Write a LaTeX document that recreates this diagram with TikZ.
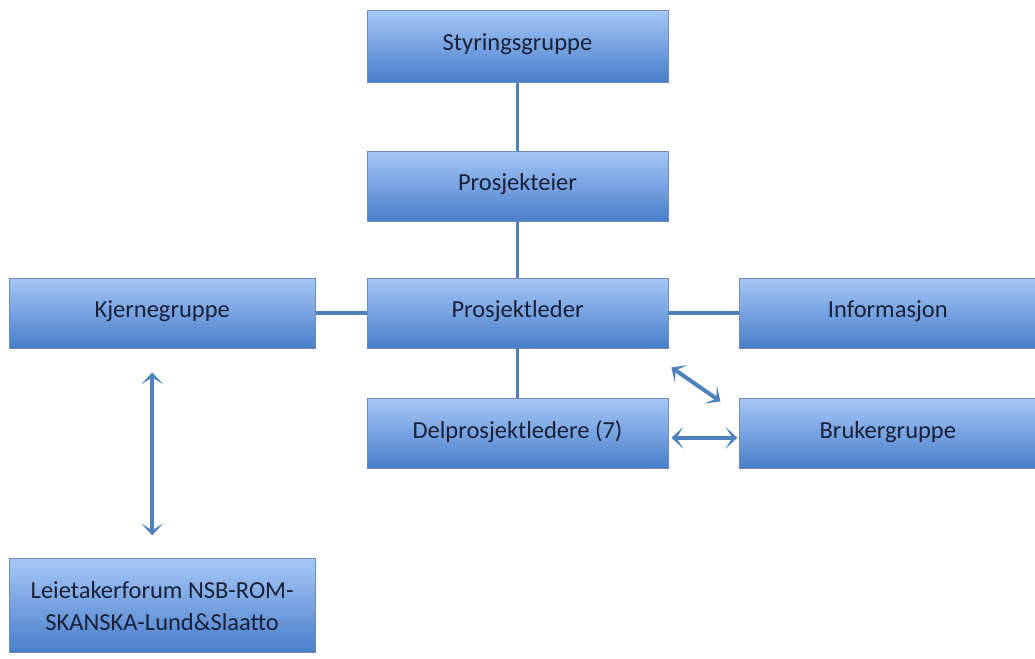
\documentclass[tikz,border=0pt]{standalone}
\usepackage{fontspec}
\setmainfont{Carlito}
\usetikzlibrary{positioning,arrows.meta}
\definecolor{boxtop}{RGB}{166,199,246}
\definecolor{boxbot}{RGB}{72,126,202}
\definecolor{boxline}{RGB}{112,140,182}
\definecolor{linkblue}{RGB}{79,129,189}
\definecolor{txt}{RGB}{24,32,58}

\begin{document}
\begin{tikzpicture}[thick,node distance=50pt,
            main node/.style={rectangle,draw=boxline,line width=0.8pt,top color=boxtop,bottom color=boxbot,
              minimum width=301pt,minimum height=70pt,inner sep=0pt,text=txt,align=center,
              font=\fontsize{24.5}{32}\selectfont},
            link/.style={draw=linkblue,line width=3.5pt},
            both/.style={link,line width=4pt,{Stealth[length=12pt,width=22pt,inset=7pt]}-{Stealth[length=12pt,width=22pt,inset=7pt]}}]

            \useasboundingbox (0,0) rectangle (1035pt,-658pt);
            \node[main node] (leder) at (517.5pt,-313pt) {\raisebox{8pt}{Prosjektleder}};
            \node[main node] (eier) [above=56pt of leder] {\raisebox{8pt}{Prosjekteier}};
            \node[main node,minimum height=72pt] (styring) [above=68pt of eier] {\raisebox{8pt}{Styringsgruppe}};
            \node[main node,minimum width=306pt] (kjerne) [left=51pt of leder] {\raisebox{8pt}{Kjernegruppe}};
            \node[main node,minimum width=296pt] (info) [right=71pt of leder] {\raisebox{8pt}{Informasjon}};
            \node[main node] (delpro) [below=50pt of leder] {\raisebox{8pt}{Delprosjektledere (7)}};
            \node[main node,minimum width=296pt] (bruker) [right=71pt of delpro] {\raisebox{8pt}{Brukergruppe}};
            \node[main node,minimum width=306pt,minimum height=94pt] (leie) [below=210pt of kjerne]
            {\raisebox{10pt}{\parbox{300pt}{\centering Leietakerforum NSB-ROM-\\SKANSKA-Lund\&Slaatto}}};

            \path[link]
            (styring) edge (eier)
            (eier) edge (leder)
            (leder) edge (delpro)
            (kjerne) edge (leder)
            (leder) edge (info);
            \draw[both] ([xshift=-10pt,yshift=-24pt]kjerne.south) -- ([xshift=-10pt,yshift=23pt]leie.north);
            \draw[both] ([shift={(3pt,-19pt)}]leder.south east) -- ([shift={(-19pt,-3pt)}]bruker.north west);
            \draw[both] ([xshift=3pt,yshift=-4pt]delpro.east) -- ([xshift=-2pt,yshift=-4pt]bruker.west);
          \end{tikzpicture}
\end{document}
